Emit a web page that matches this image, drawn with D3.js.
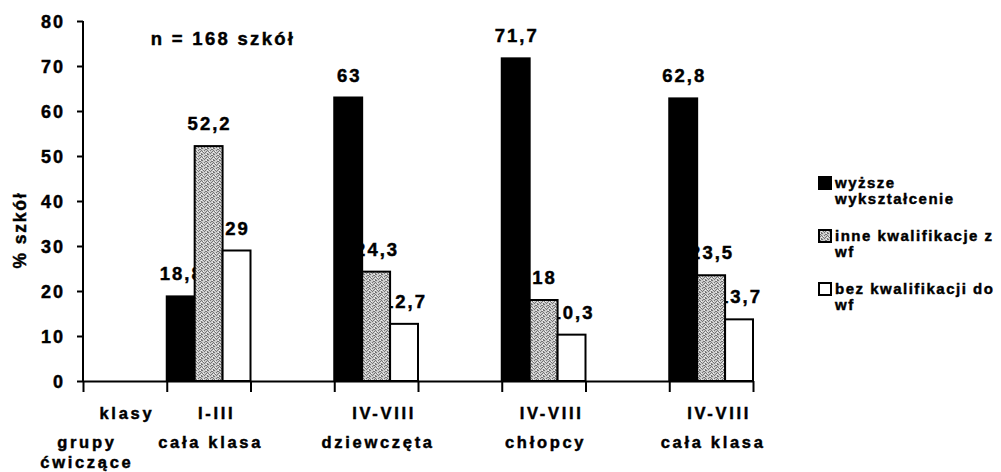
<!DOCTYPE html>
<html>
<head>
<meta charset="utf-8">
<script src="https://cdn.jsdelivr.net/npm/d3@7"></script>
<style>
  body { margin: 0; background: #fff; }
  text { font-family: "Liberation Sans", Arial, sans-serif; font-weight: bold; fill: #000; stroke: #000; stroke-width: 0.45px; }
</style>
</head>
<body>
<script>
// dane
var klasy = ["klasy", "I-III", "IV-VIII", "IV-VIII", "IV-VIII"];
var grupy = [["grupy", "ćwiczące"], ["cała klasa"], ["dziewczęta"], ["chłopcy"], ["cała klasa"]];
var serie = ["wyższe wykształcenie", "inne kwalifikacje z wf", "bez kwalifikacji do wf"];
var legendaLinie = [["wyższe", "wykształcenie"], ["inne kwalifikacje z", "wf"], ["bez kwalifikacji do", "wf"]];
var wyzsze = [null, 18.8, 63, 71.7, 62.8];
var inne = [null, 52.2, 24.3, 18, 23.5];
var bez = [null, 29, 12.7, 10.3, 13.7];
var etykiety = [[null, "18,8", "63", "71,7", "62,8"], [null, "52,2", "24,3", "18", "23,5"], [null, "29", "12,7", "10,3", "13,7"]];
var yTicks = [0, 10, 20, 30, 40, 50, 60, 70, 80];
var podpis = "n = 168 szkół";
var osY = "% szkół";

var values = [wyzsze, inne, bez];

var W = 1001, H = 472;
var svg = d3.select("body").append("svg").attr("width", W).attr("height", H);
svg.append("rect").attr("width", W).attr("height", H).attr("fill", "#fff");

// wzór szary (kropkowany)
var defs = svg.append("defs");
var pat = defs.append("pattern").attr("id", "gray").attr("patternUnits", "userSpaceOnUse")
  .attr("width", 6).attr("height", 6);
pat.append("rect").attr("width", 6).attr("height", 6).attr("fill", "#cccccc");
var dots = ["100100", "001010", "010001", "100100", "000110", "011000"];
dots.forEach(function (row, j) {
  row.split("").forEach(function (c, i) {
    if (c === "1") pat.append("rect").attr("x", i).attr("y", j).attr("width", 1).attr("height", 1).attr("fill", "#747474");
  });
});
pat.append("rect").attr("x", 2).attr("y", 4).attr("width", 1).attr("height", 1).attr("fill", "#f2f2f2");
pat.append("rect").attr("x", 5).attr("y", 1).attr("width", 1).attr("height", 1).attr("fill", "#f2f2f2");
pat.append("rect").attr("x", 3).attr("y", 2).attr("width", 1).attr("height", 1).attr("fill", "#f2f2f2");

var fills = ["#000", "url(#gray)", "#fff"];

// skale
var x = d3.scaleLinear().domain([0, 8]).range([83, 753]);
var y = d3.scaleLinear().domain([0, 80]).range([381, 21]);
var slotW = x(1) - x(0), barW = slotW / 3;
function slot(i) { return i === 0 ? 0 : 2 * i - 1; }

// podpis
svg.append("text").attr("x", 223).attr("y", 45).attr("text-anchor", "middle")
  .attr("font-size", 18.5).attr("letter-spacing", 2.3).text(podpis);

// etykiety wartości (pod słupkami, jak w oryginale)
values.forEach(function (vals, s) {
  vals.forEach(function (v, i) {
    if (v == null) return;
    svg.append("text")
      .attr("x", x(slot(i)) + barW * s + barW / 2 + 1)
      .attr("y", y(v) - 16)
      .attr("text-anchor", "middle")
      .attr("font-size", 18.5).attr("letter-spacing", 2)
      .text(etykiety[s][i]);
  });
});

// słupki
values.forEach(function (vals, s) {
  svg.append("g").selectAll("rect")
    .data(vals.map(function (v, i) { return { v: v, i: i }; }).filter(function (d) { return d.v != null; }))
    .join("rect")
    .attr("x", function (d) { return x(slot(d.i)) + barW * s; })
    .attr("y", function (d) { return y(d.v); })
    .attr("width", barW)
    .attr("height", function (d) { return y(0) - y(d.v); })
    .attr("fill", fills[s])
    .attr("stroke", "#000").attr("stroke-width", 2);
});

// oś Y
var yAxis = d3.axisLeft(y).tickValues(yTicks).tickSize(6).tickPadding(12);
var gy = svg.append("g").attr("transform", "translate(83,0)").call(yAxis);
gy.select(".domain").attr("stroke-width", 2).attr("d", "M0,381V21");
gy.selectAll(".tick line").attr("stroke-width", 2);
gy.selectAll(".tick text").attr("font-size", 18).attr("font-family", "Liberation Sans").attr("font-weight", "bold")
  .attr("letter-spacing", 2).attr("dy", "0.36em");

// oś X
var xAxis = d3.axisBottom(x).tickValues(d3.range(9)).tickFormat("").tickSizeInner(11).tickSizeOuter(0);
var gx = svg.append("g").attr("transform", "translate(0,381)").call(xAxis);
gx.select(".domain").attr("stroke-width", 2);
gx.selectAll(".tick line").attr("stroke-width", 2);

// etykiety kategorii
klasy.forEach(function (k, i) {
  var cx = x(slot(i)) + slotW / 2;
  svg.append("text").attr("x", cx + (i === 0 ? 2 : 8)).attr("y", 419).attr("text-anchor", "middle")
    .attr("font-size", 16.5).attr("letter-spacing", 2.7).text(k);
  grupy[i].forEach(function (g, j) {
    svg.append("text").attr("x", i === 0 ? cx - 38 : cx + 2).attr("y", 448 + j * 20).attr("text-anchor", "middle")
      .attr("font-size", 16.5).attr("letter-spacing", 2.7).text(g);
  });
});

// tytuł osi Y
svg.append("text").attr("transform", "translate(26,230) rotate(-90)").attr("text-anchor", "middle")
  .attr("font-size", 17.5).attr("letter-spacing", 1.8).text(osY);

// legenda
var leg = svg.append("g").attr("transform", "translate(818,176)");
serie.forEach(function (s, i) {
  var g = leg.append("g").attr("transform", "translate(0," + (i * 53) + ")");
  g.append("rect").attr("x", 1).attr("y", 1).attr("width", 12).attr("height", 12)
    .attr("fill", fills[i]).attr("stroke", "#000").attr("stroke-width", 2);
  legendaLinie[i].forEach(function (t, j) {
    g.append("text").attr("x", 17).attr("y", 12 + j * 16).attr("font-size", 15)
      .attr("letter-spacing", 1.5).text(t);
  });
});
</script>
</body>
</html>
